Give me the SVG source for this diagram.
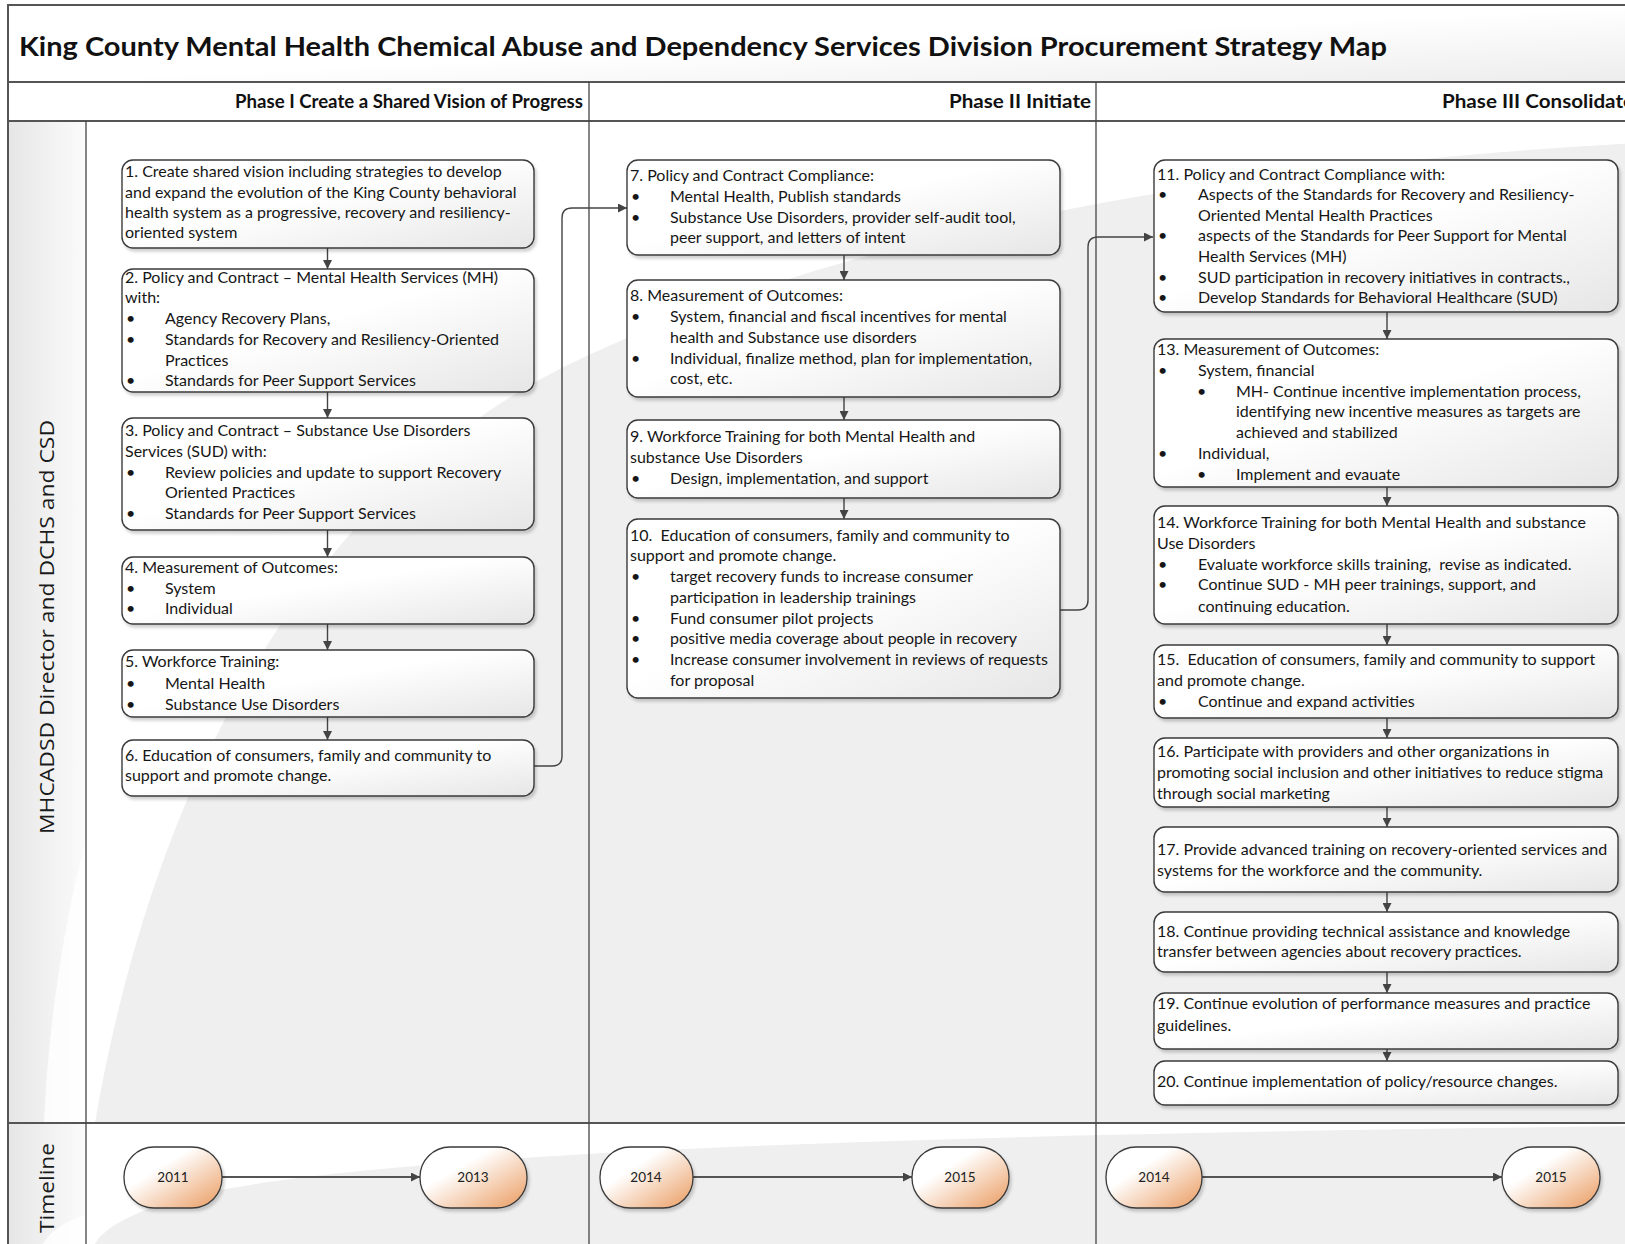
<svg xmlns="http://www.w3.org/2000/svg" width="1625" height="1244" viewBox="0 0 1625 1244">
<defs>
<style>
.t{font-family:Lato,"Liberation Sans",sans-serif;font-size:16px;fill:#161616}
.ph{font-family:Lato,"Liberation Sans",sans-serif;font-size:19px;font-weight:bold;fill:#111}
.lane{font-family:"Open Sans","Liberation Sans",sans-serif;font-size:20px;fill:#1a1a1a}
.yr{font-family:Lato,"Liberation Sans",sans-serif;font-size:13.5px;fill:#222}
.box{fill:url(#gBox);stroke:#3a3a3a;stroke-width:1.4;filter:url(#sh)}
.pill{fill:url(#gPill);stroke:#3a3a3a;stroke-width:1.3;filter:url(#sh)}
.grid{stroke:#555;stroke-width:2;fill:none}
.div{stroke:#444;stroke-width:1.3;fill:none}
.ca{stroke:#444;stroke-width:1.4;fill:none;marker-end:url(#ah)}
.tl{stroke:#555;stroke-width:2;fill:none;marker-end:url(#ah)}
</style>
<linearGradient id="gBox" x1="0" y1="0" x2="1" y2="1">
<stop offset="0.45" stop-color="#ffffff"/>
<stop offset="1" stop-color="#e6e6e6"/>
</linearGradient>
<linearGradient id="gPill" x1="0" y1="0" x2="1" y2="1">
<stop offset="0.35" stop-color="#ffffff"/>
<stop offset="1" stop-color="#ea9a5e"/>
</linearGradient>
<linearGradient id="gTitle" x1="0" y1="0" x2="1" y2="1">
<stop offset="0.5" stop-color="#ffffff"/>
<stop offset="1" stop-color="#ececec"/>
</linearGradient>
<linearGradient id="gLane" x1="0" y1="0" x2="1" y2="0">
<stop offset="0" stop-color="#e6e6e6"/>
<stop offset="1" stop-color="#fbfbfb"/>
</linearGradient>
<filter id="sh" x="-5%" y="-5%" width="115%" height="125%">
<feDropShadow dx="2" dy="3" stdDeviation="1.5" flood-color="#000" flood-opacity="0.18"/>
</filter>
<marker id="ah" viewBox="0 0 10 10" refX="10" refY="5" markerWidth="9" markerHeight="9" markerUnits="userSpaceOnUse" orient="auto">
<path d="M0,0 L10,5 L0,10 Z" fill="#444"/>
</marker>
</defs>

<g id="background">
<rect x="8" y="5" width="1650" height="77" fill="url(#gTitle)"/>
<rect x="8" y="82" width="1650" height="39" fill="#ffffff"/>
<rect x="8" y="121" width="78" height="1002" fill="url(#gLane)"/>
<path d="M86,840 C62,930 48,1030 44,1123 L86,1123 Z" fill="#ffffff" opacity="0.8"/>
<rect x="8" y="1123" width="78" height="130" fill="url(#gLane)"/>
<path d="M86,1215 C62,1222 45,1235 40,1250 L86,1250 Z" fill="#ffffff" opacity="0.8"/>
<rect x="86" y="121" width="1570" height="1002" fill="#efefef"/>
<path d="M86,121 H1656 V142 C1300,160 900,215 600,350 C300,480 150,800 95,1123 H86 Z" fill="#ffffff"/>
<rect x="86" y="1123" width="1570" height="130" fill="#efefef"/>
<path d="M86,1123 H1656 V1126 C1100,1132 500,1145 250,1185 C150,1200 100,1225 92,1250 H86 Z" fill="#ffffff"/>
</g>

<g id="frame">
<rect x="8" y="5" width="1650" height="1250" class="grid"/>
<line x1="8" y1="82" x2="1658" y2="82" class="grid"/>
<line x1="8" y1="121" x2="1658" y2="121" class="grid"/>
<line x1="8" y1="1123" x2="1658" y2="1123" class="grid"/>
<line x1="86" y1="121" x2="86" y2="1255" class="div"/>
<line x1="589" y1="82" x2="589" y2="1255" class="div"/>
<line x1="1096" y1="82" x2="1096" y2="1255" class="div"/>
</g>

<g id="headers">
<text x="19" y="56" font-family="Lato, 'Liberation Sans', sans-serif" font-size="26" font-weight="bold" fill="#111" textLength="1368" lengthAdjust="spacingAndGlyphs">King County Mental Health Chemical Abuse and Dependency Services Division Procurement Strategy Map</text>
<text x="235" y="108" class="ph" textLength="348" lengthAdjust="spacingAndGlyphs">Phase I Create a Shared Vision of Progress</text>
<text x="949" y="108" class="ph" textLength="142" lengthAdjust="spacingAndGlyphs">Phase II Initiate</text>
<text x="1442" y="108" class="ph" textLength="192" lengthAdjust="spacingAndGlyphs">Phase III Consolidate</text>
<text class="lane" transform="translate(54,627) rotate(-90)" text-anchor="middle" textLength="414" lengthAdjust="spacingAndGlyphs">MHCADSD Director and DCHS and CSD</text>
<text class="lane" transform="translate(54,1188) rotate(-90)" text-anchor="middle" textLength="90" lengthAdjust="spacingAndGlyphs">Timeline</text>
</g>

<g id="connectors">
<line x1="327.5" y1="248" x2="327.5" y2="269" class="ca"/>
<line x1="327.5" y1="392" x2="327.5" y2="418" class="ca"/>
<line x1="327.5" y1="530" x2="327.5" y2="557" class="ca"/>
<line x1="327.5" y1="624" x2="327.5" y2="650" class="ca"/>
<line x1="327.5" y1="717" x2="327.5" y2="740" class="ca"/>
<path d="M534,766 H552 Q562,766 562,756 V218 Q562,208 572,208 H627" class="ca"/>
<line x1="844" y1="255" x2="844" y2="280" class="ca"/>
<line x1="844" y1="397" x2="844" y2="420" class="ca"/>
<line x1="844" y1="498" x2="844" y2="519" class="ca"/>
<path d="M1060,610 H1078 Q1088,610 1088,600 V247 Q1088,237 1098,237 H1153" class="ca"/>
<line x1="1387" y1="312" x2="1387" y2="339" class="ca"/>
<line x1="1387" y1="487" x2="1387" y2="506" class="ca"/>
<line x1="1387" y1="624" x2="1387" y2="645" class="ca"/>
<line x1="1387" y1="718" x2="1387" y2="738" class="ca"/>
<line x1="1387" y1="807" x2="1387" y2="827" class="ca"/>
<line x1="1387" y1="892" x2="1387" y2="912" class="ca"/>
<line x1="1387" y1="972" x2="1387" y2="993" class="ca"/>
<line x1="1387" y1="1049" x2="1387" y2="1061" class="ca"/>
<line x1="222" y1="1177" x2="420" y2="1177" class="tl"/>
<line x1="693" y1="1177" x2="912" y2="1177" class="tl"/>
<line x1="1202" y1="1177" x2="1502" y2="1177" class="tl"/>
</g>

<g id="n1">
<rect x="122" y="160" width="412" height="88" rx="11" class="box"/>
<text class="t"><tspan x="125" y="177">1. Create shared vision including strategies to develop</tspan><tspan x="125" y="198">and expand the evolution of the King County behavioral</tspan><tspan x="125" y="218">health system as a progressive, recovery and resiliency-</tspan><tspan x="125" y="238">oriented system</tspan></text>
</g>
<g id="n2">
<rect x="122" y="269" width="412" height="123" rx="11" class="box"/>
<text class="t"><tspan x="125" y="283">2. Policy and Contract – Mental Health Services (MH)</tspan><tspan x="125" y="303">with:</tspan><tspan x="126" y="324">•</tspan><tspan x="165" y="324">Agency Recovery Plans,</tspan><tspan x="126" y="345">•</tspan><tspan x="165" y="345">Standards for Recovery and Resiliency-Oriented</tspan><tspan x="165" y="366">Practices</tspan><tspan x="126" y="386">•</tspan><tspan x="165" y="386">Standards for Peer Support Services</tspan></text>
</g>
<g id="n3">
<rect x="122" y="418" width="412" height="112" rx="11" class="box"/>
<text class="t"><tspan x="125" y="436">3. Policy and Contract – Substance Use Disorders</tspan><tspan x="125" y="457">Services (SUD) with:</tspan><tspan x="126" y="478">•</tspan><tspan x="165" y="478">Review policies and update to support Recovery</tspan><tspan x="165" y="498">Oriented Practices</tspan><tspan x="126" y="519">•</tspan><tspan x="165" y="519">Standards for Peer Support Services</tspan></text>
</g>
<g id="n4">
<rect x="122" y="557" width="412" height="67" rx="11" class="box"/>
<text class="t"><tspan x="125" y="573">4. Measurement of Outcomes:</tspan><tspan x="126" y="594">•</tspan><tspan x="165" y="594">System</tspan><tspan x="126" y="614">•</tspan><tspan x="165" y="614">Individual</tspan></text>
</g>
<g id="n5">
<rect x="122" y="650" width="412" height="67" rx="11" class="box"/>
<text class="t"><tspan x="125" y="667">5. Workforce Training:</tspan><tspan x="126" y="689">•</tspan><tspan x="165" y="689">Mental Health</tspan><tspan x="126" y="710">•</tspan><tspan x="165" y="710">Substance Use Disorders</tspan></text>
</g>
<g id="n6">
<rect x="122" y="740" width="412" height="56" rx="11" class="box"/>
<text class="t"><tspan x="125" y="761">6. Education of consumers, family and community to</tspan><tspan x="125" y="781">support and promote change.</tspan></text>
</g>

<g id="n7">
<rect x="627" y="160" width="433" height="95" rx="11" class="box"/>
<text class="t"><tspan x="630" y="181">7. Policy and Contract Compliance:</tspan><tspan x="631" y="202">•</tspan><tspan x="670" y="202">Mental Health, Publish standards</tspan><tspan x="631" y="223">•</tspan><tspan x="670" y="223">Substance Use Disorders, provider self-audit tool,</tspan><tspan x="670" y="243">peer support, and letters of intent</tspan></text>
</g>
<g id="n8">
<rect x="627" y="280" width="433" height="117" rx="11" class="box"/>
<text class="t"><tspan x="630" y="301">8. Measurement of Outcomes:</tspan><tspan x="631" y="322">•</tspan><tspan x="670" y="322">System, financial and fiscal incentives for mental</tspan><tspan x="670" y="343">health and Substance use disorders</tspan><tspan x="631" y="364">•</tspan><tspan x="670" y="364">Individual, finalize method, plan for implementation,</tspan><tspan x="670" y="384">cost, etc.</tspan></text>
</g>
<g id="n9">
<rect x="627" y="420" width="433" height="78" rx="11" class="box"/>
<text class="t"><tspan x="630" y="442">9. Workforce Training for both Mental Health and</tspan><tspan x="630" y="463">substance Use Disorders</tspan><tspan x="631" y="484">•</tspan><tspan x="670" y="484">Design, implementation, and support</tspan></text>
</g>
<g id="n10">
<rect x="627" y="519" width="433" height="179" rx="11" class="box"/>
<text class="t" xml:space="preserve"><tspan x="630" y="541">10.  Education of consumers, family and community to</tspan><tspan x="630" y="561">support and promote change.</tspan><tspan x="631" y="582">•</tspan><tspan x="670" y="582">target recovery funds to increase consumer</tspan><tspan x="670" y="603">participation in leadership trainings</tspan><tspan x="631" y="624">•</tspan><tspan x="670" y="624">Fund consumer pilot projects</tspan><tspan x="631" y="644">•</tspan><tspan x="670" y="644">positive media coverage about people in recovery</tspan><tspan x="631" y="665">•</tspan><tspan x="670" y="665">Increase consumer involvement in reviews of requests</tspan><tspan x="670" y="686">for proposal</tspan></text>
</g>

<g id="n11">
<rect x="1154" y="160" width="464" height="152" rx="11" class="box"/>
<text class="t"><tspan x="1157" y="180">11. Policy and Contract Compliance with:</tspan><tspan x="1158" y="200">•</tspan><tspan x="1198" y="200">Aspects of the Standards for Recovery and Resiliency-</tspan><tspan x="1198" y="221">Oriented Mental Health Practices</tspan><tspan x="1158" y="241">•</tspan><tspan x="1198" y="241">aspects of the Standards for Peer Support for Mental</tspan><tspan x="1198" y="262">Health Services (MH)</tspan><tspan x="1158" y="283">•</tspan><tspan x="1198" y="283">SUD participation in recovery initiatives in contracts.,</tspan><tspan x="1158" y="303">•</tspan><tspan x="1198" y="303">Develop Standards for Behavioral Healthcare (SUD)</tspan></text>
</g>
<g id="n13">
<rect x="1154" y="339" width="464" height="148" rx="11" class="box"/>
<text class="t"><tspan x="1157" y="355">13. Measurement of Outcomes:</tspan><tspan x="1158" y="376">•</tspan><tspan x="1198" y="376">System, financial</tspan><tspan x="1197" y="397">•</tspan><tspan x="1236" y="397">MH- Continue incentive implementation process,</tspan><tspan x="1236" y="417">identifying new incentive measures as targets are</tspan><tspan x="1236" y="438">achieved and stabilized</tspan><tspan x="1158" y="459">•</tspan><tspan x="1198" y="459">Individual,</tspan><tspan x="1197" y="480">•</tspan><tspan x="1236" y="480">Implement and evauate</tspan></text>
</g>
<g id="n14">
<rect x="1154" y="506" width="464" height="118" rx="11" class="box"/>
<text class="t" xml:space="preserve"><tspan x="1157" y="528">14. Workforce Training for both Mental Health and substance</tspan><tspan x="1157" y="549">Use Disorders</tspan><tspan x="1158" y="570">•</tspan><tspan x="1198" y="570">Evaluate workforce skills training,  revise as indicated.</tspan><tspan x="1158" y="590">•</tspan><tspan x="1198" y="590">Continue SUD - MH peer trainings, support, and</tspan><tspan x="1198" y="612">continuing education.</tspan></text>
</g>
<g id="n15">
<rect x="1154" y="645" width="464" height="73" rx="11" class="box"/>
<text class="t" xml:space="preserve"><tspan x="1157" y="665">15.  Education of consumers, family and community to support</tspan><tspan x="1157" y="686">and promote change.</tspan><tspan x="1158" y="707">•</tspan><tspan x="1198" y="707">Continue and expand activities</tspan></text>
</g>
<g id="n16">
<rect x="1154" y="738" width="464" height="69" rx="11" class="box"/>
<text class="t"><tspan x="1157" y="757">16. Participate with providers and other organizations in</tspan><tspan x="1157" y="778">promoting social inclusion and other initiatives to reduce stigma</tspan><tspan x="1157" y="799">through social marketing</tspan></text>
</g>
<g id="n17">
<rect x="1154" y="827" width="464" height="65" rx="11" class="box"/>
<text class="t"><tspan x="1157" y="855">17. Provide advanced training on recovery-oriented services and</tspan><tspan x="1157" y="876">systems for the workforce and the community.</tspan></text>
</g>
<g id="n18">
<rect x="1154" y="912" width="464" height="60" rx="11" class="box"/>
<text class="t"><tspan x="1157" y="937">18. Continue providing technical assistance and knowledge</tspan><tspan x="1157" y="957">transfer between agencies about recovery practices.</tspan></text>
</g>
<g id="n19">
<rect x="1154" y="993" width="464" height="56" rx="11" class="box"/>
<text class="t"><tspan x="1157" y="1009">19. Continue evolution of performance measures and practice</tspan><tspan x="1157" y="1031">guidelines.</tspan></text>
</g>
<g id="n20">
<rect x="1154" y="1061" width="464" height="44" rx="11" class="box"/>
<text class="t"><tspan x="1157" y="1087">20. Continue implementation of policy/resource changes.</tspan></text>
</g>

<g id="t2011"><rect x="124" y="1147" width="98" height="61" rx="30" class="pill"/><text class="yr" x="173" y="1182" text-anchor="middle">2011</text></g>
<g id="t2013"><rect x="420" y="1147" width="107" height="61" rx="30" class="pill"/><text class="yr" x="473" y="1182" text-anchor="middle">2013</text></g>
<g id="t2014a"><rect x="600" y="1147" width="93" height="61" rx="30" class="pill"/><text class="yr" x="646" y="1182" text-anchor="middle">2014</text></g>
<g id="t2015a"><rect x="912" y="1147" width="97" height="61" rx="30" class="pill"/><text class="yr" x="960" y="1182" text-anchor="middle">2015</text></g>
<g id="t2014b"><rect x="1106" y="1147" width="96" height="61" rx="30" class="pill"/><text class="yr" x="1154" y="1182" text-anchor="middle">2014</text></g>
<g id="t2015b"><rect x="1502" y="1147" width="98" height="61" rx="30" class="pill"/><text class="yr" x="1551" y="1182" text-anchor="middle">2015</text></g>
</svg>
